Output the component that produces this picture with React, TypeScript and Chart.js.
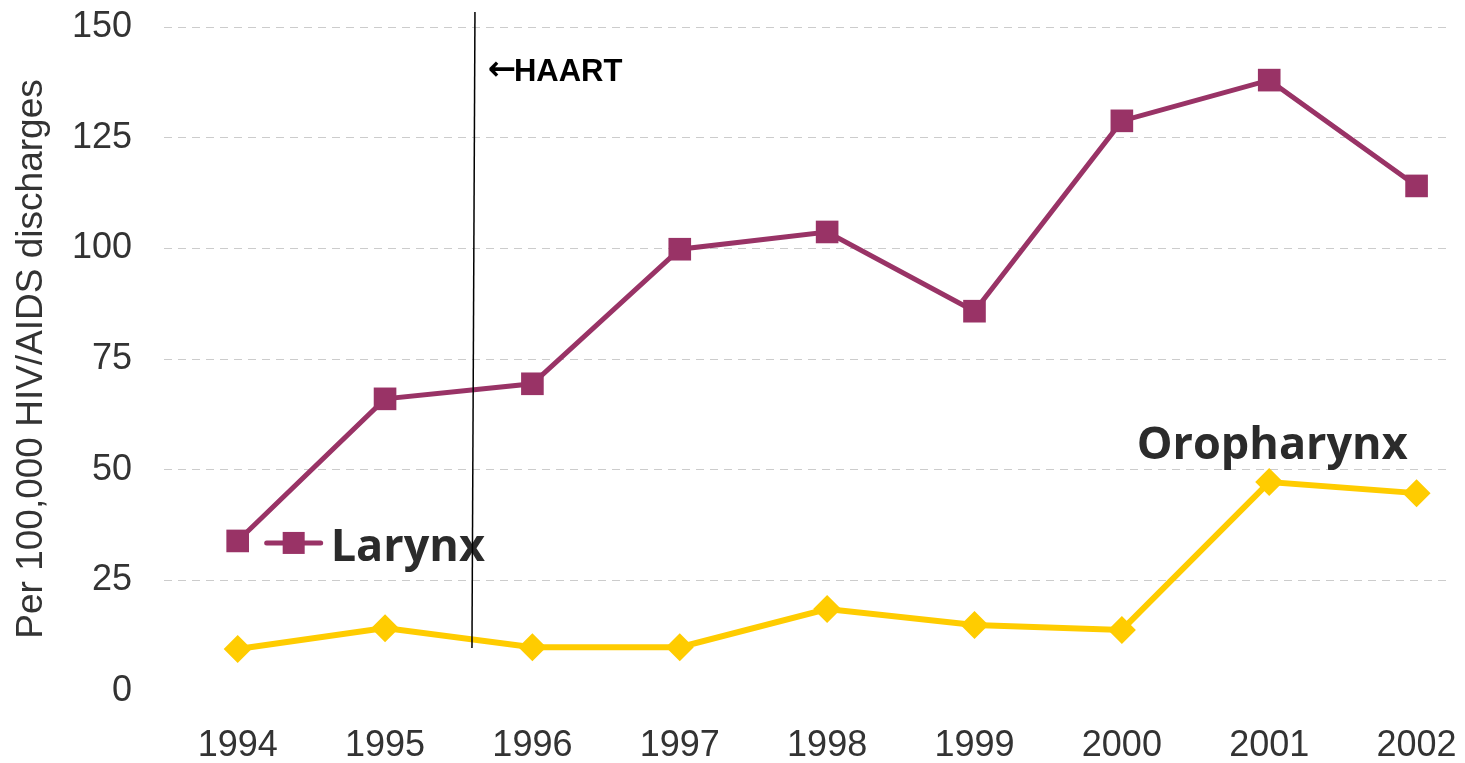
import React, { useEffect, useRef } from "react";
import { Chart, registerables } from "chart.js";

Chart.register(...registerables);

const years = [1994, 1995, 1996, 1997, 1998, 1999, 2000, 2001, 2002];
const larynx = [33.9, 66.0, 69.4, 99.8, 103.7, 85.8, 128.8, 138.0, 114.1];
const oropharynx = [9.5, 14.2, 9.9, 9.9, 18.5, 14.9, 13.8, 47.2, 44.7];
const yTicks = [0, 25, 50, 75, 100, 125, 150];
const haartYear = 1995.6;
const haartRange = [9.7, 153.4];

const LARYNX_COLOR = "#993366";
const ORO_COLOR = "#FFCC00";
const TEXT_COLOR = "#333333";
const LABEL_COLOR = "#2b2b2b";

export default function App() {
  const ref = useRef<HTMLCanvasElement | null>(null);

  useEffect(() => {
    document.body.style.margin = "0";
    const canvas = ref.current;
    if (!canvas) return;

    const annotations = {
      id: "annotations",
      afterDatasetsDraw(chart: any) {
        const ctx = chart.ctx;
        const xs = chart.scales.x;
        const ys = chart.scales.y;
        ctx.save();
        // Larynx legend
        const lx = xs.getPixelForValue(years[0]);
        const ly = ys.getPixelForValue(larynx[0]) + 2;
        ctx.strokeStyle = LARYNX_COLOR;
        ctx.lineWidth = 5;
        ctx.lineCap = "round";
        ctx.beginPath();
        ctx.moveTo(lx + 29, ly);
        ctx.lineTo(lx + 83, ly);
        ctx.stroke();
        ctx.fillStyle = LARYNX_COLOR;
        ctx.fillRect(lx + 56 - 11, ly - 11, 22, 22);
        ctx.fillStyle = LABEL_COLOR;
        ctx.font = "bold 45px 'Open Sans'";
        ctx.textAlign = "left";
        ctx.textBaseline = "alphabetic";
        ctx.fillText("Larynx", lx + 93, ly + 18);
        // Oropharynx label
        const ox = xs.getPixelForValue(years[7]);
        const oy = ys.getPixelForValue(oropharynx[7]);
        ctx.textAlign = "center";
        ctx.fillText("Oropharynx", ox + 3, oy - 23);
        // HAART line
        const hx = xs.getPixelForValue(haartYear);
        ctx.strokeStyle = "#000000";
        ctx.lineWidth = 1.5;
        ctx.lineCap = "butt";
        ctx.beginPath();
        ctx.moveTo(hx + 1.5, ys.getPixelForValue(haartRange[1]));
        ctx.lineTo(hx - 1.5, ys.getPixelForValue(haartRange[0]));
        ctx.stroke();
        ctx.fillStyle = "#000000";
        ctx.textAlign = "left";
        ctx.textBaseline = "middle";
        const ty = ys.getPixelForValue(140);
        ctx.font = "bold 34px 'DejaVu Sans'";
        ctx.fillText("\u2190", hx + 14, ty);
        const aw = ctx.measureText("\u2190").width;
        ctx.font = "bold 31px 'Liberation Sans Narrow', 'Liberation Sans'";
        ctx.fillText("HAART", hx + 14 + aw - 2, ty + 1);
        ctx.restore();
      },
    };

    const chart = new Chart(canvas, {
      type: "line",
      data: {
        datasets: [
          {
            label: "Oropharynx",
            data: years.map((y, i) => ({ x: y, y: oropharynx[i] })),
            borderColor: ORO_COLOR,
            backgroundColor: ORO_COLOR,
            borderWidth: 6,
            pointStyle: "rectRot",
            pointRadius: 14,
            pointBorderWidth: 0,
            tension: 0,
          },
          {
            label: "Larynx",
            data: years.map((y, i) => ({ x: y, y: larynx[i] })),
            borderColor: LARYNX_COLOR,
            backgroundColor: LARYNX_COLOR,
            borderWidth: 5,
            pointStyle: "rect",
            pointRadius: 16,
            pointBorderWidth: 0,
            tension: 0,
          },
        ],
      },
      options: {
        animation: false,
        responsive: false,
        layout: { padding: { top: 27, left: 10, right: 0, bottom: 0 } },
        plugins: {
          legend: { display: false },
          tooltip: { enabled: false },
        },
        scales: {
          x: {
            type: "linear",
            min: 1993.5,
            max: 2002.22,
            afterBuildTicks: (scale: any) => {
              scale.ticks = years.map((v) => ({ value: v }));
            },
            afterFit: (scale: any) => {
              scale.height = 72;
              scale.paddingLeft = 0;
              scale.paddingRight = 0;
            },
            grid: { display: false, drawTicks: false },
            border: { display: false },
            ticks: {
              color: TEXT_COLOR,
              font: { family: "'Liberation Sans', Arial", size: 36 },
              padding: 33,
              maxRotation: 0,
              autoSkip: false,
              callback: (v: any) => String(v),
            },
          },
          y: {
            min: 0,
            max: 150,
            afterBuildTicks: (scale: any) => {
              scale.ticks = yTicks.map((v) => ({ value: v }));
            },
            afterFit: (scale: any) => {
              scale.width = 154;
              scale.paddingTop = 0;
              scale.paddingBottom = 0;
            },
            grid: {
              drawTicks: false,
              color: (c: any) => (c.tick && c.tick.value === 0 ? "rgba(0,0,0,0)" : "#cccccc"),
              lineWidth: 1,
            },
            border: { display: false, dash: [8, 6] },
            ticks: {
              color: TEXT_COLOR,
              font: { family: "'Liberation Sans', Arial", size: 36 },
              padding: 32,
              callback: (v: any) => String(v),
            },
            title: {
              display: true,
              text: "Per 100,000 HIV/AIDS discharges",
              color: TEXT_COLOR,
              font: { family: "'Liberation Sans', Arial", size: 37 },
              padding: 0,
            },
          },
        },
      },
      plugins: [annotations],
    });
    return () => chart.destroy();
  }, []);

  return (
    <div style={{ width: 1465, height: 763, position: "relative" }}>
      <canvas ref={ref} width={1465} height={763} style={{ display: "block" }} />
    </div>
  );
}
